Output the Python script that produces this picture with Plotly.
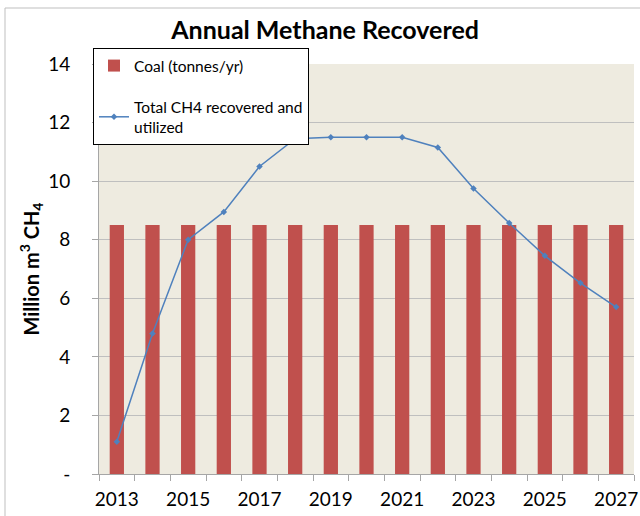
import plotly.graph_objects as go

years = list(range(2013, 2028))
coal = [8.5] * 15
ch4 = [1.1, 4.8, 8.0, 8.95, 10.5, 11.45, 11.5, 11.5, 11.5, 11.15, 9.75, 8.57, 7.45, 6.52, 5.7]
y_ticks = [0, 2, 4, 6, 8, 10, 12, 14]
y_labels = ["-", "2", "4", "6", "8", "10", "12", "14"]
x_label_years = list(range(2013, 2028, 2))

FONT = "Lato, Open Sans, sans-serif"

fig = go.Figure()
fig.add_trace(go.Bar(x=years, y=coal, name="Coal (tonnes/yr)", marker_color="#C0504D",
                     marker_line_width=0, width=0.4, legendgroup="a"))
fig.add_trace(go.Scatter(x=years, y=ch4, name="Total CH4 recovered and<br>utilized", mode="lines+markers",
                         line=dict(color="#4F81BD", width=1.5),
                         marker=dict(symbol="diamond", size=5, color="#4F81BD"), legendgroup="b"))

L, R, T, B = 99, 6, 64, 42
W, H = 640, 516
pw, ph = W - L - R, H - T - B

def px(x):
    return (x - L) / pw

def py(y):
    return (H - B - y) / ph

shapes = [
    dict(type="rect", xref="paper", yref="paper", x0=px(5), y0=py(520), x1=px(645), y1=py(8),
         line=dict(color="#BFBFBF", width=1), fillcolor="rgba(0,0,0,0)", layer="below"),
]

fig.update_layout(
    width=W, height=H,
    margin=dict(l=L, r=R, t=T, b=B, autoexpand=False),
    paper_bgcolor="white", plot_bgcolor="#EEEBE0",
    font=dict(family=FONT, size=19, color="black"),
    title=dict(text="<b>Annual Methane Recovered</b>", x=0.508, xanchor="center", y=1 - 30 / H, yanchor="middle",
               font=dict(size=25, family=FONT)),
    bargap=0.6,
    showlegend=True,
    legend=dict(x=px(93), y=py(48), xanchor="left", yanchor="top", bgcolor="white",
                bordercolor="black", borderwidth=1, font=dict(size=15.5, family=FONT),
                traceorder="grouped", tracegroupgap=18, itemwidth=30),
    shapes=shapes,
    xaxis=dict(range=[2012.5, 2027.5], tickvals=x_label_years, ticktext=[str(v) for v in x_label_years],
               ticks="", showgrid=False, showline=True, linecolor="#A6A6A6", linewidth=1,
               tickfont=dict(size=19), zeroline=False, automargin=False, ticklabelstandoff=8,
               minor=dict(tickvals=[y - 0.5 for y in years] + [2027.5], ticks="outside", ticklen=6,
                          tickcolor="#A6A6A6", showgrid=False)),
    yaxis=dict(range=[0, 14], tickvals=y_ticks, ticktext=y_labels, ticks="outside", ticklen=6,
               tickcolor="#A6A6A6", showgrid=True, gridcolor="#BFBFBF", gridwidth=1,
               showline=True, linecolor="#A6A6A6", zeroline=False, tickfont=dict(size=19), automargin=False,
               ticklabelstandoff=18,
               title=dict(text="<b>Million m<sup>3</sup> CH<sub>4</sub></b>", font=dict(size=20), standoff=3)),
)

fig.write_html("out.html", config={"displayModeBar": False},
               post_script="document.body.style.margin='0px';document.body.style.padding='0px';")
